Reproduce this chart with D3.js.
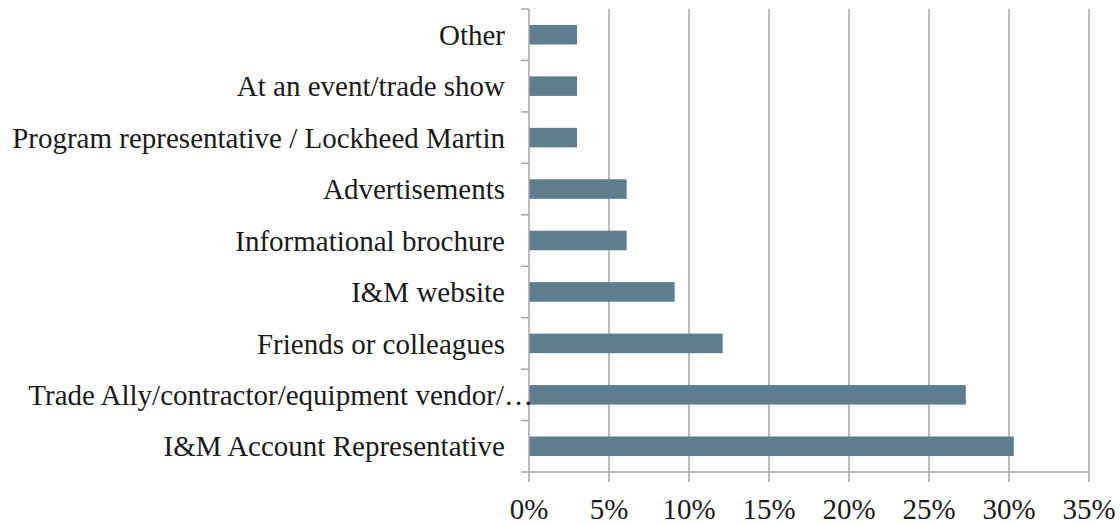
<!DOCTYPE html>
<html>
<head>
<meta charset="utf-8">
<script src="https://cdn.jsdelivr.net/npm/d3@7"></script>
<style>
  body { margin: 0; background: #fff; }
  text { font-family: "Liberation Serif", "Times New Roman", serif; fill: #1a1a1a; }
</style>
</head>
<body>
<script>
// categories, bottom to top as in the chart
var categories = [
    "I&M Account Representative",
    "Trade Ally/contractor/equipment vendor/\u2026",
    "Friends or colleagues",
    "I&M website",
    "Informational brochure",
    "Advertisements",
    "Program representative / Lockheed Martin",
    "At an event/trade show",
    "Other"
];
var values = [30.3, 27.3, 12.1, 9.1, 6.1, 6.1, 3.0, 3.0, 3.0];
var xTicks = [0, 5, 10, 15, 20, 25, 30, 35];

var w = 1120, h = 525;
var plotLeft = 529, plotRight = 1089, plotTop = 9, plotBottom = 472;
var barColor = "#5e7d8e";
var gridColor = "#a6a6a6";
var fontSize = "29px";

var svg = d3.select("body").append("svg")
    .attr("width", w)
    .attr("height", h);

var xScale = d3.scaleLinear()
    .domain([0, 35])
    .range([plotLeft, plotRight]);

// reversed so the first category sits at the bottom
var yScale = d3.scaleBand()
    .domain(categories.slice().reverse())
    .range([plotTop, plotBottom])
    .paddingInner(0.62)
    .paddingOuter(0.31);

var band = (plotBottom - plotTop) / categories.length;

// vertical gridlines
svg.append("g")
    .selectAll("line")
    .data(xTicks.slice(1))
    .enter().append("line")
    .attr("x1", function (d) { return xScale(d); })
    .attr("x2", function (d) { return xScale(d); })
    .attr("y1", plotTop)
    .attr("y2", plotBottom)
    .attr("stroke", gridColor)
    .attr("stroke-width", 1.5);

// bars
svg.append("g")
    .selectAll("rect")
    .data(categories)
    .enter().append("rect")
    .attr("x", xScale(0))
    .attr("y", function (d) { return yScale(d); })
    .attr("width", function (d, i) { return xScale(values[i]) - xScale(0); })
    .attr("height", yScale.bandwidth())
    .attr("fill", barColor);

// y axis line with ticks between categories
var yAxis = svg.append("g");
yAxis.append("line")
    .attr("x1", plotLeft).attr("x2", plotLeft)
    .attr("y1", plotTop).attr("y2", plotBottom)
    .attr("stroke", gridColor).attr("stroke-width", 1.5);
yAxis.selectAll("line.tick")
    .data(d3.range(categories.length + 1))
    .enter().append("line")
    .attr("class", "tick")
    .attr("x1", plotLeft - 8).attr("x2", plotLeft)
    .attr("y1", function (i) { return plotTop + i * band; })
    .attr("y2", function (i) { return plotTop + i * band; })
    .attr("stroke", gridColor).attr("stroke-width", 1.5);

// category labels (the cut-off one runs past the axis, as in the original)
yAxis.selectAll("text")
    .data(categories)
    .enter().append("text")
    .attr("x", function (d, i) { return i == 1 ? plotLeft + 4 : plotLeft - 24; })
    .attr("y", function (d) { return yScale(d) + yScale.bandwidth() / 2; })
    .attr("dy", "0.35em")
    .attr("text-anchor", "end")
    .attr("font-size", fontSize)
    .text(function (d) { return d; });

// x axis
var xAxis = svg.append("g");
xAxis.append("line")
    .attr("x1", plotLeft).attr("x2", plotRight)
    .attr("y1", plotBottom).attr("y2", plotBottom)
    .attr("stroke", gridColor).attr("stroke-width", 1.5);
xAxis.selectAll("line.tick")
    .data(xTicks)
    .enter().append("line")
    .attr("class", "tick")
    .attr("x1", function (d) { return xScale(d); })
    .attr("x2", function (d) { return xScale(d); })
    .attr("y1", plotBottom).attr("y2", plotBottom + 10)
    .attr("stroke", gridColor).attr("stroke-width", 1.5);
xAxis.selectAll("text")
    .data(xTicks)
    .enter().append("text")
    .attr("x", function (d) { return xScale(d); })
    .attr("y", 519)
    .attr("text-anchor", "middle")
    .attr("font-size", fontSize)
    .text(function (d) { return d + "%"; });
</script>
</body>
</html>
